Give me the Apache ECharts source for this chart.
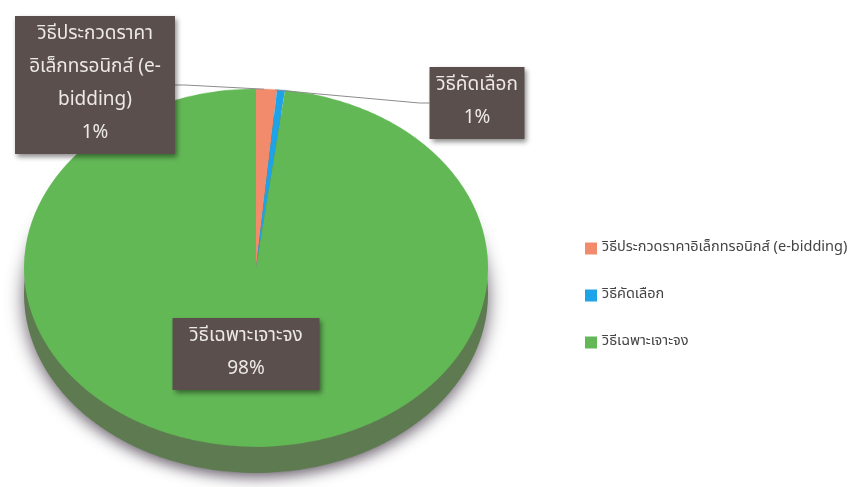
<!DOCTYPE html>
<html><head><meta charset="utf-8">
<script src="https://cdn.jsdelivr.net/npm/echarts@6/dist/echarts.min.js"></script>
<style>
html,body{margin:0;padding:0;background:#fff;}
#wrap{position:relative;width:852px;height:487px;overflow:hidden;background:#fff;}
#pie{position:absolute;left:0;top:0;width:852px;height:640px;transform:scaleY(0.7716);transform-origin:0 0;}
#top{position:absolute;left:0;top:0;width:852px;height:487px;}
</style></head><body>
<div id="wrap"><div id="pie"></div><div id="top"></div></div>
<script>
// ---- data ----
const categories = ['วิธีประกวดราคาอิเล็กทรอนิกส์ (e-bidding)', 'วิธีคัดเลือก', 'วิธีเฉพาะเจาะจง'];
const values = [1.45, 0.55, 98.0];
const labelTexts = ['วิธีประกวดราคา\nอิเล็กทรอนิกส์ (e-\nbidding)', 'วิธีคัดเลือก', 'วิธีเฉพาะเจาะจง'];
const colors = ['#f28b6c', '#1fa3e8', '#63b856'];

const FONT = "'Noto Sans Thai', 'Noto Sans', 'DejaVu Sans', sans-serif";
const total = values.reduce((a, b) => a + b, 0);

// ---- pie (drawn circular, squashed into an ellipse by CSS) ----
const pieChart = echarts.init(document.getElementById('pie'), null, {renderer: 'canvas'});
pieChart.setOption({
  animation: false,
  series: [
    {
      type: 'pie', silent: true, center: [256, 381], radius: 232, startAngle: 90,
      label: {show: false}, labelLine: {show: false},
      data: [{name: 'side', value: total, itemStyle: {color: '#5e7a50', shadowBlur: 18, shadowColor: 'rgba(70,60,75,0.8)', shadowOffsetY: 6}}]
    },
    {
      type: 'pie', silent: true, center: [256, 347], radius: 232, startAngle: 90,
      label: {show: false}, labelLine: {show: false},
      itemStyle: {borderWidth: 0},
      data: categories.map((n, i) => ({name: n, value: values[i], itemStyle: {color: colors[i]}}))
    }
  ]
});

// ---- labels + legend overlay ----
const topChart = echarts.init(document.getElementById('top'), null, {renderer: 'canvas'});
const boxWidths = [148, 83, 135];
const boxCenters = [[95, 85], [477, 103], [246, 354]];
topChart.setOption({
  animation: false,
  legend: {
    orient: 'vertical', left: 580, top: 235, itemWidth: 12, itemHeight: 12, itemGap: 30,
    icon: 'rect', selectedMode: false,
    itemStyle: {opacity: 1},
    textStyle: {fontSize: 14.5, color: '#444', fontFamily: FONT, lineHeight: 17},
    data: categories.map((n, i) => ({name: n, itemStyle: {color: colors[i], opacity: 1}}))
  },
  series: [{
    type: 'pie', center: [256, 268], radius: 179, startAngle: 90, silent: true,
    label: {
      show: true, position: 'outside', opacity: 1,
      formatter: p => labelTexts[p.dataIndex] + '\n' + Math.round(p.percent) + '%',
      color: '#ece9e6', fontSize: 19, lineHeight: 33, fontFamily: FONT,
      backgroundColor: '#5a4f4c', padding: [3, 6], align: 'center',
      shadowColor: 'rgba(0,0,0,0.45)', shadowBlur: 5, shadowOffsetX: 2, shadowOffsetY: 3
    },
    labelLine: {show: true, length: 10, length2: 10, lineStyle: {color: '#8c8c8c', width: 1, opacity: 1}},
    labelLayout: p => ({x: boxCenters[p.dataIndex][0], y: boxCenters[p.dataIndex][1], align: 'center', verticalAlign: 'middle'}),
    data: categories.map((n, i) => ({
      name: n, value: values[i], itemStyle: {color: 'rgba(0,0,0,0)'},
      label: {width: boxWidths[i], position: i === 2 ? 'inside' : 'outside'},
      labelLine: {show: i !== 2}
    }))
  }]
});
</script>
</body></html>
